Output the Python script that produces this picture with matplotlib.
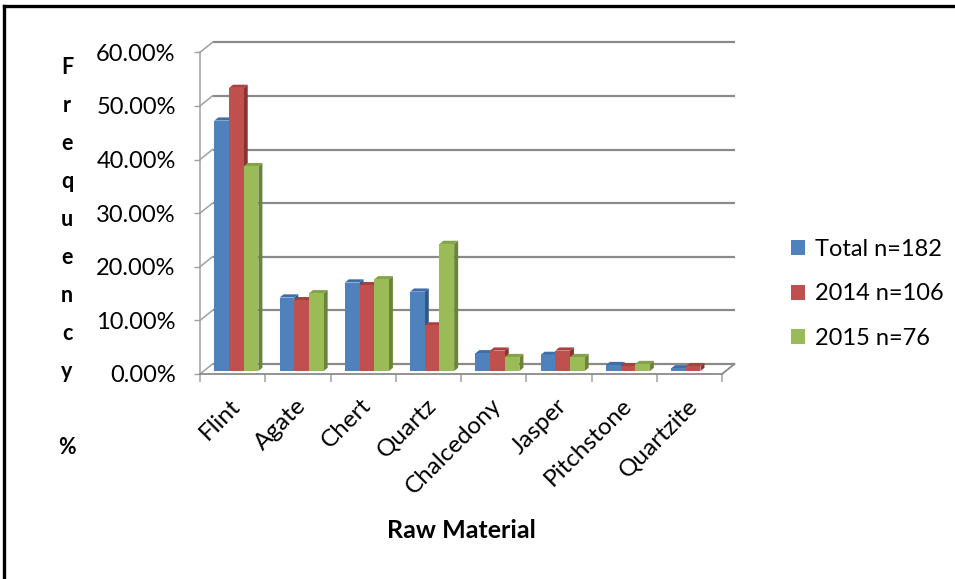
import matplotlib
matplotlib.use("Agg")
import matplotlib.pyplot as plt
from matplotlib.patches import Polygon, Patch
from matplotlib.lines import Line2D
from matplotlib.ticker import FixedLocator
from matplotlib.transforms import ScaledTranslation

# ---- data -------------------------------------------------------------
categories = ["Flint", "Agate", "Chert", "Quartz", "Chalcedony", "Jasper",
              "Pitchstone", "Quartzite"]
total_pct = [46.7, 13.7, 16.5, 14.8, 3.3, 3.0, 1.1, 0.5]
pct_2014 = [52.8, 13.2, 16.0, 8.5, 3.8, 3.8, 0.9, 0.9]
pct_2015 = [38.2, 14.5, 17.1, 23.7, 2.6, 2.6, 1.3, 0.0]
series_names = ["Total n=182", "2014 n=106", "2015 n=76"]
y_ticks = [0, 10, 20, 30, 40, 50, 60]

series_values = [total_pct, pct_2014, pct_2015]
front_colors = ["#4F81BD", "#C0504D", "#9BBB59"]
top_colors = ["#3F6DA8", "#A9413E", "#84A248"]
side_colors = ["#30588A", "#8A3331", "#6A8537"]

plt.rcParams["font.family"] = ["Lato", "DejaVu Sans"]

W, H, DPI = 955, 579, 100
fig = plt.figure(figsize=(W / DPI, H / DPI), dpi=DPI)

# front plane of the 3-D box
ax_left, ax_right = 200, 722
ax_bottom_img, ax_top_img = 374, 52.3
ax = fig.add_axes([ax_left / W, 1 - ax_bottom_img / H,
                   (ax_right - ax_left) / W,
                   (ax_bottom_img - ax_top_img) / H])
xmin, xmax = -0.5, len(categories) - 0.5
ymin, ymax = 0, 60
ax.set_xlim(xmin, xmax)
ax.set_ylim(ymin, ymax)
ax.patch.set_visible(False)

# depth vector of the box in data units (full depth)
px_per_x = (ax_right - ax_left) / (xmax - xmin)
px_per_y = (ax_bottom_img - ax_top_img) / (ymax - ymin)
DXu = 12.5 / px_per_x
DYu = 10.0 / px_per_y

grid_col = "#8A8A8A"
axis_col = "#A0A0A0"

# back wall gridlines and left wall connectors
for t in y_ticks:
    ax.plot([xmin + DXu, xmax + DXu], [t + DYu, t + DYu], color=grid_col,
            lw=1.6, clip_on=False, zorder=1, solid_capstyle="butt")
    ax.plot([xmin, xmin + DXu], [t, t + DYu], color=axis_col, lw=1.1,
            clip_on=False, zorder=1)
# floor right edge
ax.plot([xmax, xmax + DXu], [0, DYu], color=grid_col, lw=1.3,
        clip_on=False, zorder=1)

# bars: front, top and side faces
bar_w = 0.225
d0, d1 = 0.3, 0.62
ox0, oy0 = d0 * DXu, d0 * DYu
ox1, oy1 = d1 * DXu, d1 * DYu
for i in range(len(categories)):
    for k, vals in enumerate(series_values):
        v = vals[i]
        if v <= 0:
            continue
        x0 = i + (k - 1.5) * bar_w
        x1 = x0 + bar_w
        side = Polygon([(x1 + ox0, oy0), (x1 + ox1, oy1),
                        (x1 + ox1, v + oy1), (x1 + ox0, v + oy0)],
                       closed=True, fc=side_colors[k], ec="none",
                       clip_on=False, zorder=3)
        top = Polygon([(x0 + ox0, v + oy0), (x1 + ox0, v + oy0),
                       (x1 + ox1, v + oy1), (x0 + ox1, v + oy1)],
                      closed=True, fc=top_colors[k], ec="none",
                      clip_on=False, zorder=3)
        front = Polygon([(x0 + ox0, oy0), (x1 + ox0, oy0),
                         (x1 + ox0, v + oy0), (x0 + ox0, v + oy0)],
                        closed=True, fc=front_colors[k], ec="none",
                        clip_on=False, zorder=3)
        for p in (side, top, front):
            ax.add_patch(p)

# spines as the front axis and the floor front edge
for s in ("top", "right"):
    ax.spines[s].set_visible(False)
ax.spines["left"].set_color(axis_col)
ax.spines["left"].set_linewidth(1.1)
ax.spines["bottom"].set_color(grid_col)
ax.spines["bottom"].set_linewidth(1.3)

ax.set_yticks(y_ticks)
ax.set_yticklabels([f"{t:.2f}%" for t in y_ticks], fontsize=17)
ax.tick_params(axis="y", length=4.5, width=1, color=axis_col, pad=13)

ax.set_xticks(range(len(categories)))
ax.set_xticklabels(categories, fontsize=17.5, rotation=45, ha="right",
                   rotation_mode="anchor")
ax.tick_params(axis="x", which="major", length=0, pad=15)
shift = ScaledTranslation(-3 / DPI, 0, fig.dpi_scale_trans)
for lab in ax.get_xticklabels():
    lab.set_transform(lab.get_transform() + shift)
ax.xaxis.set_minor_locator(FixedLocator([i - 0.5 for i in range(len(categories) + 1)]))
ax.tick_params(axis="x", which="minor", length=6, width=1.1, color=axis_col)

# axis titles
fig.text(67 / W, 1 - 258 / H, "F\nr\ne\nq\nu\ne\nn\nc\ny\n\n%",
         ha="center", va="center", ma="center", fontsize=15.5,
         fontweight="bold", linespacing=2.0)
fig.text(461 / W, 1 - 530 / H, "Raw Material", ha="center", va="center",
         fontsize=18, fontweight="bold")

# legend
handles = [Patch(facecolor=c, edgecolor="none") for c in front_colors]
fig.legend(handles, series_names, loc="center left",
           bbox_to_anchor=(770 / W, 1 - 294 / H), frameon=False,
           fontsize=17, handlelength=0.6, handleheight=0.6,
           handletextpad=0.4, labelspacing=1.0)

# outer border (left and top)
fig.add_artist(Line2D([4 / W, 4 / W], [0, 1 - 6 / H], transform=fig.transFigure,
                      color="black", lw=2.4))
fig.add_artist(Line2D([4 / W, 1], [1 - 6 / H, 1 - 6 / H],
                      transform=fig.transFigure, color="black", lw=2.4))

fig.savefig("out.png", dpi=DPI, facecolor="white")
